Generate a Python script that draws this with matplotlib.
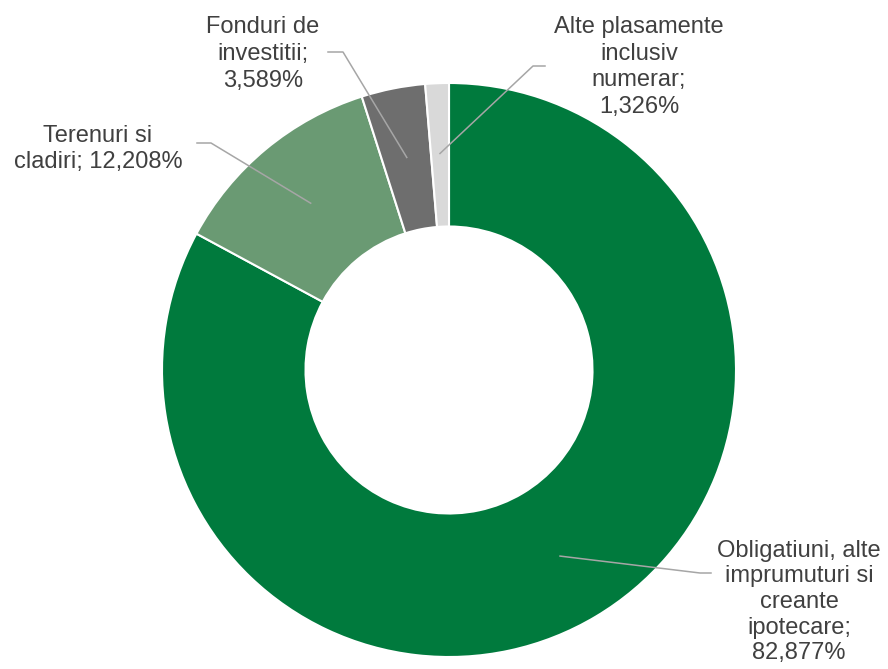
import numpy as np
import matplotlib.pyplot as plt

plt.rcParams['font.family'] = ['Liberation Sans', 'DejaVu Sans']

# data
categories = ['Obligatiuni, alte\nimprumuturi si\ncreante\nipotecare',
              'Terenuri si\ncladiri', 'Fonduri de\ninvestitii',
              'Alte plasamente\ninclusiv\nnumerar']
values = [82.877, 12.208, 3.589, 1.326]
colors = ['#007A3D', '#6A9A73', '#6E6E6E', '#D9D9D9']

# label layout (pixel positions in the 888x669 image)
label_text_px = [(799, 602), (98, 149), (263, 54), (639, 67)]
label_elbow_px = [(700, 573), (211, 143), (343, 52), (533, 66)]
label_end_px = [(711, 573), (197, 143), (328, 52), (545, 66)]
label_break = ['\n', ' ', '\n', '\n']
label_spacing = [1.22, 1.28, 1.28, 1.28]

W, H = 888, 669
cx, cy, R = 449, 370, 287

fig = plt.figure(figsize=(W / 100, H / 100), dpi=100)
ax = fig.add_axes([(cx - R) / W, (H - cy - R) / H, 2 * R / W, 2 * R / H])

wedges, _ = ax.pie(values, colors=colors, startangle=90, counterclock=False,
                   radius=1.0, wedgeprops=dict(width=0.5, edgecolor='white', linewidth=1.5))
ax.set_xlim(-1, 1)
ax.set_ylim(-1, 1)
ax.axis('off')


def to_data(p):
    return ((p[0] - cx) / R, (cy - p[1]) / R)


for i, w in enumerate(wedges):
    mid = np.deg2rad((w.theta1 + w.theta2) / 2)
    start = (0.755 * np.cos(mid), 0.755 * np.sin(mid))
    elbow = to_data(label_elbow_px[i])
    end = to_data(label_end_px[i])
    ax.plot([start[0], elbow[0], end[0]], [start[1], elbow[1], end[1]],
            color='#A6A6A6', lw=1.1, clip_on=False, zorder=3)
    tx, ty = to_data(label_text_px[i])
    txt = categories[i] + ';' + label_break[i] + f'{values[i]:.3f}%'.replace('.', ',')
    ax.text(tx, ty, txt, ha='center', va='center', fontsize=17, color='#404040',
            linespacing=label_spacing[i], clip_on=False)

fig.savefig('out.png', dpi=100)
